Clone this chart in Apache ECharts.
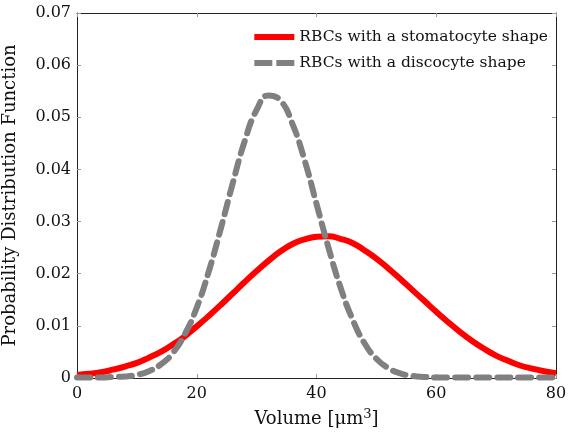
<!DOCTYPE html>
<html>
<head>
<meta charset="utf-8">
<script src="https://cdn.jsdelivr.net/npm/echarts@6/dist/echarts.min.js"></script>
<style>
  html, body { margin: 0; padding: 0; background: #fff; }
  #chart { width: 568px; height: 434px; }
</style>
</head>
<body>
<div id="chart"></div>
<script>
// volume samples (um^3), every 2 units
const volumes = [0, 2, 4, 6, 8, 10, 12, 14, 16, 18, 20, 22, 24, 26, 28, 30, 32, 34, 36, 38, 40,
    42, 44, 46, 48, 50, 52, 54, 56, 58, 60, 62, 64, 66, 68, 70, 72, 74, 76, 78, 80];

const stomatocyte = [0.0006, 0.0008, 0.0011, 0.0016, 0.0022, 0.0029, 0.0039, 0.0050, 0.0064, 0.0080,
    0.0099, 0.0119, 0.0140, 0.0162, 0.0184, 0.0205, 0.0225, 0.0243, 0.0257, 0.0266, 0.0271,
    0.0272, 0.0267, 0.0259, 0.0245, 0.0229, 0.0210, 0.0190, 0.0169, 0.0148, 0.0127,
    0.0107, 0.0088, 0.0071, 0.0056, 0.0043, 0.0033, 0.0024, 0.0018, 0.0013, 0.0009];

const discocyte = [0.0001, 0.0001, 0.0001, 0.0002, 0.0003, 0.0006, 0.0013, 0.0026, 0.0048, 0.0084,
    0.0135, 0.0204, 0.0286, 0.0373, 0.0454, 0.0514, 0.0542, 0.0532, 0.0487, 0.0418, 0.0334,
    0.0250, 0.0174, 0.0113, 0.0067, 0.0037, 0.0019, 0.0009, 0.0004, 0.0002, 0.0001,
    0.0001, 0.0001, 0.0001, 0.0001, 0.0001, 0.0001, 0.0001, 0.0001, 0.0001, 0.0001];

const xTicks = { min: 0, max: 80, interval: 20 };
const yTicks = { min: 0, max: 0.07, interval: 0.01 };

const font = 'DejaVu Serif';

function pairs(ys) {
    return volumes.map((v, i) => [v, ys[i]]);
}

const axisLine = { show: true, onZero: false, lineStyle: { color: '#222', width: 1 } };
const axisTick = { show: true, inside: true, length: 4, lineStyle: { color: '#999' } };

const option = {
    animation: false,
    grid: { left: 77, right: 12, top: 13, bottom: 56, outerBoundsMode: 'none', containLabel: false },
    legend: {
        right: 15,
        top: 24,
        orient: 'vertical',
        itemWidth: 40,
        itemHeight: 6,
        itemGap: 10,
        textStyle: { fontFamily: font, fontSize: 15.5, color: '#111' },
        data: [
            { name: 'RBCs with a stomatocyte shape', icon: 'path://M0,0h40v6h-40z' },
            { name: 'RBCs with a discocyte shape', icon: 'path://M0,0h18v6h-18z M22,0h18v6h-18z' }
        ]
    },
    xAxis: [{
        type: 'value',
        min: xTicks.min, max: xTicks.max, interval: xTicks.interval,
        name: 'Volume [μm{sup|3}]',
        nameLocation: 'middle',
        nameGap: 30,
        nameTextStyle: {
            fontFamily: font, fontSize: 18, color: '#111',
            rich: { sup: { fontFamily: font, fontSize: 13, color: '#111', verticalAlign: 'bottom', padding: [0, 0, 10, 0] } }
        },
        axisLine: axisLine,
        axisTick: axisTick,
        splitLine: { show: false },
        axisLabel: { fontFamily: font, fontSize: 16, color: '#111', margin: 8 }
    }, {
        type: 'value', position: 'top',
        min: xTicks.min, max: xTicks.max, interval: xTicks.interval,
        axisLine: axisLine, axisTick: axisTick,
        splitLine: { show: false }, axisLabel: { show: false }
    }],
    yAxis: [{
        type: 'value',
        min: yTicks.min, max: yTicks.max, interval: yTicks.interval,
        name: 'Probability Distribution Function',
        nameLocation: 'middle',
        nameGap: 58,
        nameTextStyle: { fontFamily: font, fontSize: 18, color: '#111' },
        axisLine: axisLine,
        axisTick: axisTick,
        splitLine: { show: false },
        axisLabel: {
            fontFamily: font, fontSize: 16, color: '#111', margin: 6,
            formatter: v => v === 0 ? '0' : v.toFixed(2)
        }
    }, {
        type: 'value', position: 'right',
        min: yTicks.min, max: yTicks.max, interval: yTicks.interval,
        axisLine: axisLine, axisTick: axisTick,
        splitLine: { show: false }, axisLabel: { show: false }
    }],
    series: [{
        name: 'RBCs with a stomatocyte shape',
        type: 'line',
        data: pairs(stomatocyte),
        smooth: true,
        showSymbol: false,
        symbol: 'none',
        itemStyle: { color: '#ff0000' },
        lineStyle: { color: '#ff0000', width: 6 },
        z: 3
    }, {
        name: 'RBCs with a discocyte shape',
        type: 'line',
        data: pairs(discocyte),
        smooth: true,
        showSymbol: false,
        symbol: 'none',
        itemStyle: { color: '#808080' },
        lineStyle: { color: '#808080', width: 6, type: [13, 8], cap: 'round' },
        z: 4
    }]
};

const chart = echarts.init(document.getElementById('chart'));
chart.setOption(option);
</script>
</body>
</html>
